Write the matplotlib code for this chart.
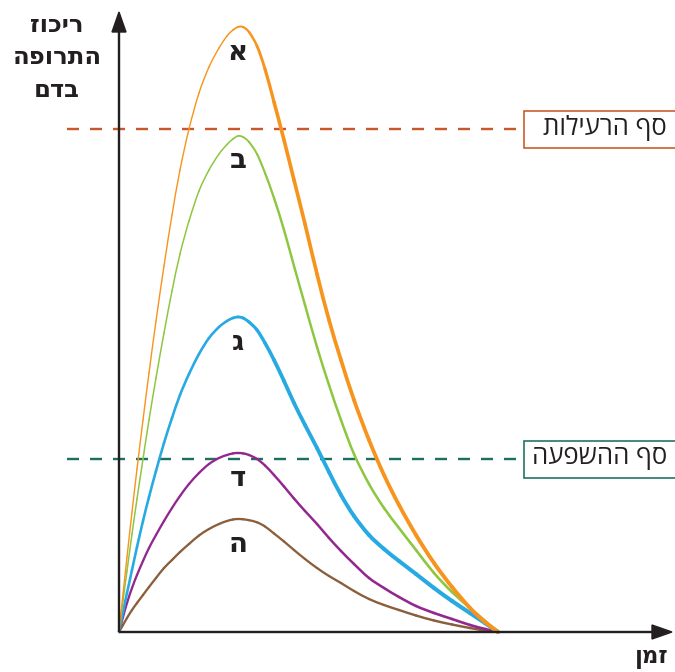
import numpy as np
import matplotlib
matplotlib.use("Agg")
import matplotlib.pyplot as plt
from matplotlib.path import Path
from matplotlib.patches import Rectangle, Polygon, PathPatch

# Drug concentration in the blood over time for five doses
time = [0, 4, 8, 13, 18, 24, 30, 37, 45, 53, 61, 70, 80, 90, 100, 108, 114, 119,
        124, 130, 138, 146, 155, 165, 175, 186, 198, 210, 222, 235, 250, 265,
        280, 297, 315, 333, 351, 366, 379]

conc_a = [0, 38, 75, 120, 163, 212, 259, 311, 366, 417, 462, 503, 539, 565, 584,
          596, 602, 605, 605, 600, 586, 563, 530, 492, 452, 408, 358, 312, 272,
          232, 192, 157, 127, 97, 69, 45, 24, 10, 0]
conc_b = [0, 31, 61, 98, 133, 173, 212, 254, 299, 341, 378, 411, 441, 462, 478,
          487.5, 493, 496, 495, 490, 478, 459, 434, 402, 366, 327, 285, 247, 212,
          178, 148, 124, 104, 82, 59, 40, 24, 11, 0]
conc_c = [0, 20, 39, 62, 85, 111, 135, 161, 189, 214, 237, 258, 278, 294, 305,
          311, 314, 315, 314, 310, 302, 289, 272, 251, 229, 207, 184, 160, 137,
          116, 97, 83, 71, 58, 44, 31, 19, 9, 0]
conc_d = [0, 15, 29, 44, 57, 71, 84, 97, 111, 124, 136, 148, 159, 168, 174, 177,
          178.6, 179, 178.6, 177, 173, 166.5, 157, 145.5, 133.5, 121, 108, 94,
          81, 68, 54, 44, 35, 26, 19, 13, 7, 3, 0]
conc_e = [0, 7, 14, 22, 29, 37, 45, 54, 64, 72, 80, 88, 96.5, 103, 108, 111,
          112.5, 113, 112.7, 111.8, 109.7, 105.5, 98.5, 90.5, 82, 73, 64, 56,
          49, 41, 33, 27, 22, 16.5, 11.5, 7.5, 4, 1.5, 0]

curve_names = ["א", "ב", "ג", "ד", "ה"]
toxic_level = 503
effect_level = 173
toxic_text = "סף הרעילות"
effect_text = "סף ההשפעה"
y_title = ["ריכוז", "התרופה", "בדם"]
x_title = "זמן"

series = [conc_a, conc_b, conc_c, conc_d, conc_e]
colors = ["#f7941d", "#8dc63f", "#27aae1", "#92278f", "#8b5e3c"]
# line widths in pixels: on the rising side and the falling side
w_rise = [1.4, 1.5, 2.6, 2.3, 2.3]
w_fall = [4.0, 2.7, 4.2, 2.7, 2.5]

ink = "#231f20"
toxic_color = "#c8582a"
effect_color = "#1b6f63"
HEB = ["Open Sans", "DejaVu Sans"]
PX = 72 / 100  # points per pixel at 100 dpi


def visual(s):
    # matplotlib lays text out left to right, so Hebrew goes in reversed
    return s[::-1]


def smooth_pieces(x, y):
    """Cubic Bezier pieces (Catmull-Rom tangents) through the points."""
    p = np.column_stack([x, y]).astype(float)
    n = len(p)
    pieces = []
    for i in range(n - 1):
        p0 = p[max(i - 1, 0)]
        p1, p2 = p[i], p[i + 1]
        p3 = p[min(i + 2, n - 1)]
        c1 = p1 + (p2 - p0) / 6.0
        c2 = p2 - (p3 - p1) / 6.0
        pieces.append(Path([p1, c1, c2, p2],
                           [Path.MOVETO, Path.CURVE4, Path.CURVE4, Path.CURVE4]))
    return pieces


plt.rcParams["lines.scale_dashes"] = False
fig = plt.figure(figsize=(6.75, 6.72), dpi=100)
ax = fig.add_axes([0, 0, 1, 1])
ax.set_xlim(-119, 556)
ax.set_ylim(-40, 632)
ax.axis("off")

t = np.asarray(time, dtype=float)

# threshold lines with their boxed captions
for level, color, text in [(toxic_level, toxic_color, toxic_text),
                           (effect_level, effect_color, effect_text)]:
    ax.plot([-52, 405], [level, level], color=color, lw=2.4 * PX,
            dashes=(12 * PX, 11 * PX), zorder=1)
    box = Rectangle((405, level - 18.5), 160, 37, facecolor="white",
                    edgecolor=color, lw=1.6 * PX, zorder=2)
    ax.add_patch(box)
    ax.text(548, level + 1, visual(text), ha="right", va="center",
            fontsize=18.5, family=HEB, color=ink, zorder=3)

# concentration curves, thin while rising and heavier while falling
order = [4, 3, 2, 1, 0]
for i in order:
    c = np.asarray(series[i], dtype=float)
    peak_t = t[np.argmax(c)]
    mid = 0.5 * (t[:-1] + t[1:])
    widths = np.interp(mid, [peak_t - 10, peak_t + 40, 379],
                       [w_rise[i], w_fall[i] * 0.9, w_fall[i]]) * PX
    for piece, w in zip(smooth_pieces(t, c), widths):
        ax.add_patch(PathPatch(piece, fill=False, edgecolor=colors[i], lw=w,
                               capstyle="round", joinstyle="round",
                               zorder=4 + (4 - i)))
    ax.annotate(curve_names[i], (peak_t, c.max()), xytext=(0, -18),
                textcoords="offset points", ha="center", va="center",
                fontsize=20, fontweight="bold", family=HEB, color=ink,
                zorder=10)

# axes with arrowheads
ax.plot([0, 0], [0, 600], color=ink, lw=2.4 * PX, zorder=12,
        solid_capstyle="butt")
ax.plot([0, 535], [0, 0], color=ink, lw=2.4 * PX, zorder=12,
        solid_capstyle="butt")
ax.add_patch(Polygon([[0, 620], [-7, 600], [7, 600]], closed=True,
                     facecolor=ink, edgecolor=ink, zorder=13))
ax.add_patch(Polygon([[553, 0], [533, -7], [533, 7]], closed=True,
                     facecolor=ink, edgecolor=ink, zorder=13))

# axis titles
for k, line in enumerate(y_title):
    ax.text(-62, 606 - 32.5 * k, visual(line), ha="center", va="center",
            fontsize=17.5, fontweight="semibold", family=HEB, color=ink)
ax.text(533, -25, visual(x_title), ha="center", va="center", fontsize=16.5,
        fontweight="bold", family=HEB, color=ink)

fig.savefig("out.png", dpi=100)
